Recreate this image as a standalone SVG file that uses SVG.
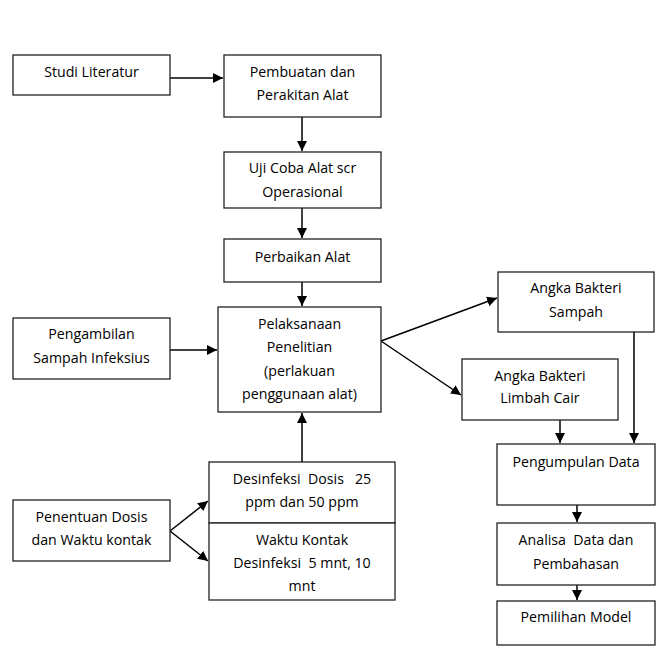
<svg xmlns="http://www.w3.org/2000/svg" width="661" height="648" viewBox="0 0 661 648">
<style>
.box{fill:#fff;stroke:#222;stroke-width:1.3}
.t{font-family:"Open Sans","Noto Sans",sans-serif;font-size:14.2px;fill:#000;text-anchor:middle;white-space:pre}
.c{fill:none;stroke:#000;stroke-width:1.5}
</style>
<defs>
<marker id="ah" markerUnits="userSpaceOnUse" markerWidth="11" markerHeight="10" refX="10" refY="5" orient="auto">
<path d="M0,0 L10,5 L0,10 Z" fill="#000"/>
</marker>
</defs>
<rect width="661" height="648" fill="#fff"/>
<g id="connectors">
<line class="c" x1="170" y1="78" x2="223" y2="78" marker-end="url(#ah)"/>
<line class="c" x1="302" y1="117" x2="302" y2="151" marker-end="url(#ah)"/>
<line class="c" x1="302" y1="208" x2="302" y2="238" marker-end="url(#ah)"/>
<line class="c" x1="302" y1="282" x2="302" y2="306" marker-end="url(#ah)"/>
<line class="c" x1="170" y1="350" x2="217" y2="350" marker-end="url(#ah)"/>
<line class="c" x1="302" y1="462" x2="302" y2="413" marker-end="url(#ah)"/>
<line class="c" x1="170" y1="531" x2="208" y2="501" marker-end="url(#ah)"/>
<line class="c" x1="170" y1="531" x2="208" y2="561" marker-end="url(#ah)"/>
<line class="c" x1="381" y1="341" x2="497" y2="298" marker-end="url(#ah)"/>
<line class="c" x1="381" y1="341" x2="461" y2="395" marker-end="url(#ah)"/>
<line class="c" x1="634" y1="332" x2="634" y2="443" marker-end="url(#ah)"/>
<line class="c" x1="560" y1="420" x2="560" y2="443" marker-end="url(#ah)"/>
<line class="c" x1="577" y1="505" x2="577" y2="522" marker-end="url(#ah)"/>
<line class="c" x1="577" y1="585" x2="577" y2="600" marker-end="url(#ah)"/>
</g>
<g id="studi"><rect class="box" x="13" y="55" width="157" height="40"/><text class="t" x="91.5" y="77">Studi Literatur</text></g>
<g id="pembuatan"><rect class="box" x="224" y="55" width="157" height="62"/><text class="t" x="302.5" y="77">Pembuatan dan</text><text class="t" x="302.5" y="100">Perakitan Alat</text></g>
<g id="ujicoba"><rect class="box" x="224" y="152" width="157" height="56"/><text class="t" x="302.5" y="173">Uji Coba Alat scr</text><text class="t" x="302.5" y="197">Operasional</text></g>
<g id="perbaikan"><rect class="box" x="224" y="239" width="157" height="43"/><text class="t" x="302.5" y="262">Perbaikan Alat</text></g>
<g id="pelaksanaan"><rect class="box" x="218" y="307" width="163" height="105"/><text class="t" x="299.5" y="329">Pelaksanaan</text><text class="t" x="299.5" y="352">Penelitian</text><text class="t" x="299.5" y="376">(perlakuan</text><text class="t" x="299.5" y="399">penggunaan alat)</text></g>
<g id="pengambilan"><rect class="box" x="13" y="318" width="157" height="61"/><text class="t" x="91.5" y="339">Pengambilan</text><text class="t" x="91.5" y="363">Sampah Infeksius</text></g>
<g id="desinfeksi"><rect class="box" x="209" y="462" width="186" height="61"/><text class="t" x="302" y="484">Desinfeksi  Dosis   25</text><text class="t" x="302" y="507">ppm dan 50 ppm</text></g>
<g id="waktu"><rect class="box" x="209" y="523" width="186" height="77"/><text class="t" x="302" y="545">Waktu Kontak</text><text class="t" x="302" y="568">Desinfeksi  5 mnt, 10</text><text class="t" x="302" y="591">mnt</text></g>
<g id="penentuan"><rect class="box" x="13" y="500" width="157" height="61"/><text class="t" x="91.5" y="522">Penentuan Dosis</text><text class="t" x="91.5" y="545">dan Waktu kontak</text></g>
<g id="sampah"><rect class="box" x="498" y="272" width="156" height="60"/><text class="t" x="576" y="293">Angka Bakteri</text><text class="t" x="576" y="317">Sampah</text></g>
<g id="limbah"><rect class="box" x="462" y="359" width="156" height="61"/><text class="t" x="540" y="381">Angka Bakteri</text><text class="t" x="540" y="403">Limbah Cair</text></g>
<g id="pengumpulan"><rect class="box" x="497" y="444" width="158" height="61"/><text class="t" x="576" y="467">Pengumpulan Data</text></g>
<g id="analisa"><rect class="box" x="497" y="523" width="158" height="62"/><text class="t" x="576" y="545">Analisa  Data dan</text><text class="t" x="576" y="569">Pembahasan</text></g>
<g id="pemilihan"><rect class="box" x="497" y="601" width="158" height="44"/><text class="t" x="576" y="622">Pemilihan Model</text></g>
</svg>
